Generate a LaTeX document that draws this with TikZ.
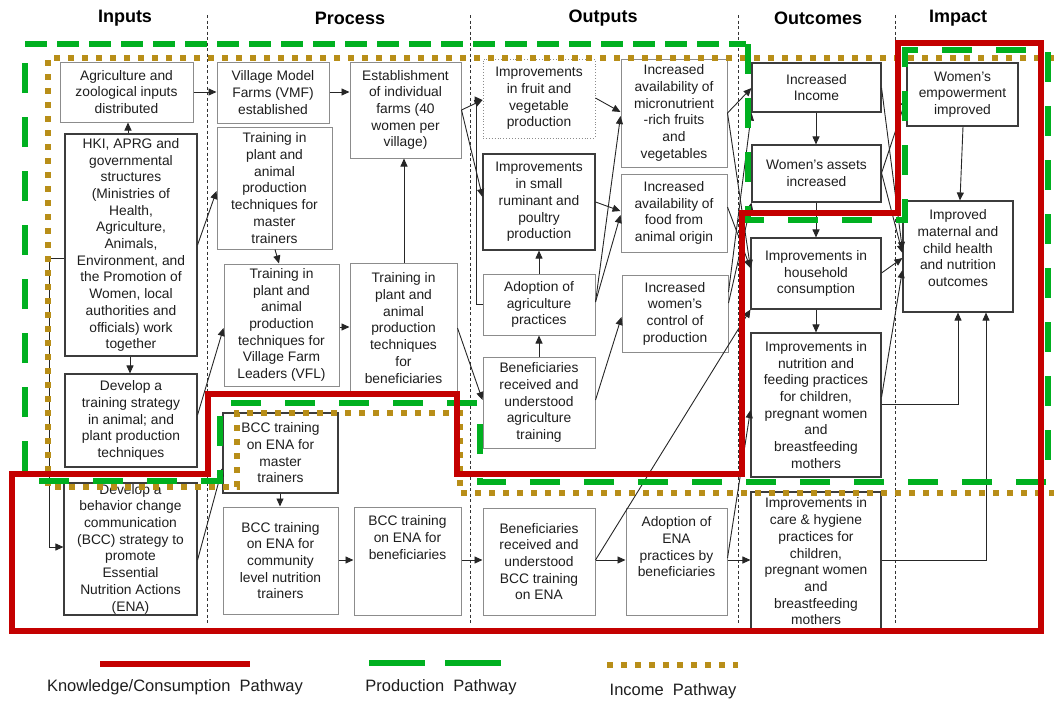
\documentclass[tikz,border=0pt]{standalone}
\usepackage{fontspec}
\setmainfont{Liberation Sans}
\usetikzlibrary{arrows.meta}
\definecolor{kred}{RGB}{196,0,0}
\definecolor{pgreen}{RGB}{0,176,32}
\definecolor{igold}{RGB}{184,142,24}
\definecolor{txtc}{RGB}{30,30,30}
\definecolor{dbord}{RGB}{60,60,60}
\definecolor{lbord}{RGB}{140,140,140}
% #1 style, #2 name, #3 x1, #4 y1, #5 x2, #6 y2, #7 text
\newcommand{\mkbox}[7][bx]{%
  \pgfmathsetmacro{\mkw}{#5-#3}%
  \pgfmathsetmacro{\mkh}{#6-#4}%
  \pgfmathsetmacro{\mkx}{(#3+#5)/2}%
  \pgfmathsetmacro{\mky}{(#4+#6)/2}%
  \node[#1, minimum width=\mkw pt, minimum height=\mkh pt] (#2) at (\mkx,\mky) {};%
  \node[txt] (#2t) at (#2.center) {#7};%
}
\newcommand{\mkboxt}[7][bx]{%
  \pgfmathsetmacro{\mkw}{#5-#3}%
  \pgfmathsetmacro{\mkh}{#6-#4}%
  \pgfmathsetmacro{\mkx}{(#3+#5)/2}%
  \pgfmathsetmacro{\mky}{(#4+#6)/2}%
  \node[#1, minimum width=\mkw pt, minimum height=\mkh pt] (#2) at (\mkx,\mky) {};%
  \node[txt, anchor=north] (#2t) at ([yshift=-9pt]#2.north) {#7};%
}
\begin{document}
\begin{tikzpicture}[x=1pt,y=-1pt,
  bx/.style={draw=dbord, line width=1.1pt, fill=white, inner sep=0pt, rectangle},
  lbx/.style={draw=lbord, line width=1pt, fill=white, inner sep=0pt, rectangle},
  dbx/.style={draw=lbord, line width=0.9pt, dotted, fill=white, inner sep=0pt, rectangle},
  txt/.style={align=center, inner sep=0pt, text=txtc, font=\fontsize{13.8}{16.7}\selectfont},
  hdr/.style={font=\fontsize{18}{20}\selectfont\bfseries, text=black, inner sep=0pt},
  arr/.style={draw=black!85, line width=0.9pt, -{Triangle[length=8pt,width=7pt]}},
  sep/.style={draw=black!80, line width=0.8pt, dash pattern=on 3pt off 2.5pt},
  redp/.style={draw=kred, line width=6pt, line join=miter},
  grp/.style={draw=pgreen, line width=6pt, dash pattern=on 30pt off 24pt},
  grt/.style={draw=pgreen, line width=6pt, dash pattern=on 22pt off 10pt},
  gdp/.style={draw=igold, line width=6pt, dash pattern=on 6pt off 8pt},
  leg/.style={font=\fontsize{16.5}{18}\selectfont, text=txtc, inner sep=0pt}
]
\useasboundingbox (0,0) rectangle (1054,702);

% headers
\node[hdr] (hIn) at (125,18) {Inputs};
\node[hdr] (hPr) at (350,18) {Process};
\node[hdr] (hOu) at (603,18) {Outputs};
\node[hdr] (hOc) at (818,18) {Outcomes};
\node[hdr] (hIm) at (958,18) {Impact};

% column separators
\foreach \sx in {207,470,738,895} { \draw[sep] (\sx,15) -- (\sx,624); }

% Inputs
\mkbox[lbx]{agin}{60}{62}{193}{122}{Agriculture and\\zoological inputs\\distributed}
\mkbox{hki}{65}{134}{197}{356}{HKI, APRG and\\governmental\\structures\\(Ministries of\\Health,\\Agriculture,\\Animals,\\Environment, and\\the Promotion of\\Women, local\\authorities and\\officials) work\\together}
\mkbox{dts}{65}{374}{197}{467}{Develop a\\training strategy\\in animal; and\\plant production\\techniques}
\mkbox{dbcc}{64}{483}{197}{615}{Develop a\\behavior change\\communication\\(BCC) strategy to\\promote\\Essential\\Nutrition Actions\\(ENA)}

% Process
\mkbox[lbx]{vmf}{217}{62}{329}{123}{Village Model\\Farms (VMF)\\established}
\mkbox[lbx]{tmt}{217}{127}{332}{249}{Training in\\plant and\\animal\\production\\techniques for\\master\\trainers}
\mkbox[lbx]{tvfl}{224}{264}{339}{386}{Training in\\plant and\\animal\\production\\techniques for\\Village Farm\\Leaders (VFL)}
\mkbox{bmt}{223}{413}{338}{493}{BCC training\\on ENA for\\master\\trainers}
\mkbox[lbx]{bcl}{223}{507}{338}{614}{BCC training\\on ENA for\\community\\level nutrition\\trainers}
\mkbox[lbx]{est}{350}{62}{461}{158}{Establishment\\of individual\\farms (40\\women per\\village)}
\mkbox[lbx]{tben}{350}{263}{457}{393}{Training in\\plant and\\animal\\production\\techniques\\for\\beneficiaries}
\mkboxt[lbx]{bben}{354}{507}{461}{615}{BCC training\\on ENA for\\beneficiaries}

% Outputs
\mkbox[dbx]{fruit}{483}{59}{595}{138}{Improvements\\in fruit and\\vegetable\\production}
\mkbox{rum}{483}{154}{595}{250}{Improvements\\in small\\ruminant and\\poultry\\production}
\mkbox[lbx]{adag}{483}{274}{595}{335}{Adoption of\\agriculture\\practices}
\mkbox[lbx]{beag}{483}{357}{595}{448}{Beneficiaries\\received and\\understood\\agriculture\\training}
\mkbox[lbx]{bebcc}{483}{508}{595}{615}{Beneficiaries\\received and\\understood\\BCC training\\on ENA}
\mkbox[lbx]{micro}{621}{59}{727}{167}{Increased\\availability of\\micronutrient\\-rich fruits\\and\\vegetables}
\mkbox[lbx]{food}{621}{174}{727}{252}{Increased\\availability of\\food from\\animal origin}
\mkbox[lbx]{ctrl}{622}{275}{728}{352}{Increased\\women’s\\control of\\production}
\mkboxt[lbx]{aena}{626}{508}{727}{615}{Adoption of\\ENA\\practices by\\beneficiaries}

% Outcomes
\mkbox{inc}{752}{63}{881}{112}{Increased\\Income}
\mkbox{asset}{752}{145}{881}{202}{Women’s assets\\increased}
\mkbox{hh}{751}{238}{881}{309}{Improvements in\\household\\consumption}
\mkbox{nut}{751}{333}{881}{477}{Improvements in\\nutrition and\\feeding practices\\for children,\\pregnant women\\and\\breastfeeding\\mothers}
\mkbox{care}{751}{492}{881}{631}{Improvements in\\care \& hygiene\\practices for\\children,\\pregnant women\\and\\breastfeeding\\mothers}

% Impact
\mkbox{emp}{907}{63}{1018}{126}{Women’s\\empowerment\\improved}
\mkboxt{mat}{903}{201}{1013}{312}{Improved\\maternal and\\child health\\and nutrition\\outcomes}

% connectors
\draw[arr] (hki.north -| 128,0) -- (agin.south -| 128,0);
\draw[arr] (agin.east |- 0,92) -- (vmf.west |- 0,92);
\draw[arr] (vmf.east |- 0,92) -- (est.west |- 0,92);
\draw[arr] (hki.east |- 0,245) -- (tmt.west |- 0,191);
\draw[arr] (hki.south -| 130,0) -- (dts.north -| 130,0);
\draw[arr] (dts.east |- 0,415) -- (tvfl.west |- 0,328);
\draw[arr] (tmt.south -| 275,0) -- (tvfl.north -| 279,0);
\draw[arr] (tvfl.east |- 0,327) -- (tben.west |- 0,327);
\draw[arr] (tben.north -| 404,0) -- (est.south -| 404,0);
\draw[arr] (tben.east |- 0,328) -- (beag.west |- 0,400);
\draw[arr] (est.east |- 0,110) -- (fruit.west |- 0,100);
\draw[arr] (est.east |- 0,110) -- (rum.west |- 0,197);
\draw[arr] (adag.west |- 0,304) -| (476,100) -- (fruit.west |- 0,100);
\draw[arr] (beag.north -| 539,0) -- (adag.south -| 539,0);
\draw[arr] (adag.north -| 539,0) -- (rum.south -| 539,0);
\draw[arr] (fruit.east |- 0,98) -- (micro.west |- 0,112);
\draw[arr] (rum.east |- 0,202) -- (food.west |- 0,211);
\draw[arr] (adag.east |- 0,302) -- (micro.west |- 0,116);
\draw[arr] (adag.east |- 0,302) -- (food.west |- 0,215);
\draw[arr] (beag.east |- 0,400) -- (ctrl.west |- 0,317);
\draw[arr] (micro.east |- 0,113) -- (inc.west |- 0,88);
\draw[arr] (micro.east |- 0,113) -- (hh.west |- 0,268);
\draw[arr] (food.east |- 0,207) -- (hh.west |- 0,268);
\draw[arr] (ctrl.east |- 0,292) -- (inc.south west);
\draw[arr] (ctrl.east |- 0,303) -- (asset.south west);
\draw[arr] (bebcc.east |- 0,560) -- (hh.south west);
\draw[arr] (bebcc.east |- 0,560) -- (aena.west |- 0,560);
\draw[arr] (aena.east |- 0,560) -- (care.west |- 0,560);
\draw[arr] (aena.east |- 0,558) -- (nut.west |- 0,410);
\draw[arr] (inc.south -| 816,0) -- (asset.north -| 816,0);
\draw[arr] (asset.south -| 816,0) -- (hh.north -| 816,0);
\draw[arr] (hh.south -| 816,0) -- (nut.north -| 816,0);
\draw[arr] (inc.east |- 0,88) -- (mat.west |- 0,250);
\draw[arr] (asset.east |- 0,173) -- (mat.west |- 0,253);
\draw[arr] (asset.east |- 0,173) -- (emp.west |- 0,98);
\draw[arr] (hh.east |- 0,273) -- (mat.west |- 0,258);
\draw[arr] (nut.east |- 0,397) -- (mat.west |- 0,270);
\draw[arr] (nut.east |- 0,404) -| (mat.south -| 958,0);
\draw[arr] (care.east |- 0,560) -| (mat.south -| 986,0);
\draw[arr] (emp.south -| 963,0) -- (mat.north -| 960,0);
\draw[arr] (hki.west |- 0,258) -| (49,547) -- (dbcc.west |- 0,547);
\draw[arr] (dbcc.east |- 0,560) -- (bmt.west |- 0,468);
\draw[arr] (bmt.south -| 280,0) -- (bcl.north -| 280,0);
\draw[arr] (bcl.east |- 0,560) -- (bben.west |- 0,560);
\draw[arr] (bben.east |- 0,560) -- (bebcc.west |- 0,560);

% pathways
\draw[gdp] (1054,58) -- (48,58) -- (48,487) -- (237,487) -- (237,413) -- (460,413) -- (460,493) -- (1054,493);
\draw[grt] (25,44) -- (746,44);
\draw[grp] (748,44) -- (748,220) -- (905,220) -- (905,50) -- (1048,50) -- (1048,482) -- (480,482) -- (480,403) -- (220,403) -- (220,481) -- (25,481) -- (25,50);
\draw[redp] (898,43) -- (1041,43) -- (1041,631) -- (12,631) -- (12,474) -- (208,474) -- (208,394) -- (457,394) -- (457,474) -- (742,474) -- (742,213) -- (898,213) -- cycle;

% legend
\coordinate (lr1) at (100,664); \coordinate (lr2) at (250,664);
\coordinate (lg1) at (369,663); \coordinate (lg2) at (502,663);
\coordinate (ly1) at (607,665); \coordinate (ly2) at (738,665);
\draw[draw=kred, line width=6pt] (lr1) -- (lr2);
\draw[draw=pgreen, line width=6pt, dash pattern=on 56pt off 20pt] (lg1) -- (lg2);
\draw[gdp] (ly1) -- (ly2);
\node[leg] (lkt) at (175,687) {Knowledge/Consumption\ \ Pathway};
\node[leg] (lpt) at (441,687) {Production\ \ Pathway};
\node[leg] (lit) at (673,691) {Income\ \ Pathway};
\end{tikzpicture}
\end{document}
